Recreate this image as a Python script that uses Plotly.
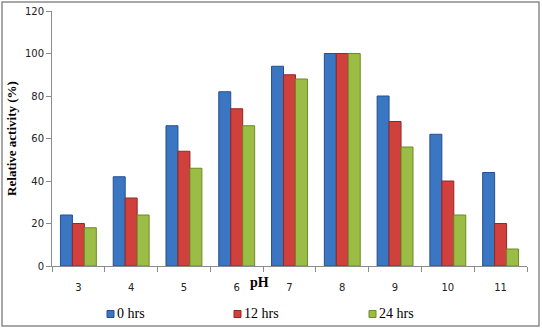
import plotly.graph_objects as go

ph_values = ["3", "4", "5", "6", "7", "8", "9", "10", "11"]
series_names = ["0 hrs", "12 hrs", "24 hrs"]
activity_0h = [24, 42, 66, 82, 94, 100, 80, 62, 44]
activity_12h = [20, 32, 54, 74, 90, 100, 68, 40, 20]
activity_24h = [18, 24, 46, 66, 88, 100, 56, 24, 8]
y_ticks = [0, 20, 40, 60, 80, 100, 120]

fills = ["#3b76c3", "#d0403c", "#9cbd45"]
edges = ["#25508f", "#962624", "#6c8a26"]

W, H = 542, 329
L, R, T, B = 52, 15, 11, 63
pw = W - L - R
ph = H - T - B


def px_x(x):
    return (x - L) / pw


def px_y(y):
    return (H - B - y) / ph


fig = go.Figure()
for name, vals, fc, ec in zip(series_names, [activity_0h, activity_12h, activity_24h], fills, edges):
    fig.add_trace(go.Bar(
        x=ph_values, y=vals, name=name, showlegend=False,
        marker=dict(color=fc, line=dict(color=ec, width=1)),
    ))

# outer chart border
fig.add_shape(type="rect", xref="paper", yref="paper",
              x0=px_x(2), x1=px_x(539), y0=px_y(326), y1=px_y(2),
              line=dict(color="#8c8c8c", width=1.5), fillcolor="rgba(0,0,0,0)")

# x axis title
fig.add_annotation(text="<b>pH</b>", xref="paper", yref="paper",
                   x=px_x(259), y=px_y(292), showarrow=False,
                   font=dict(family="Liberation Serif", size=14, color="#000"))

# legend row below the axis: small square key + label
key_left = [107, 234, 369]
for name, fc, ec, kx in zip(series_names, fills, edges, key_left):
    fig.add_shape(type="rect", xref="paper", yref="paper",
                  x0=px_x(kx), x1=px_x(kx + 7), y0=px_y(317.5), y1=px_y(310.5),
                  line=dict(color=ec, width=1), fillcolor=fc)
    fig.add_annotation(text=name, xref="paper", yref="paper",
                       x=px_x(kx + 8), y=px_y(313.5), xanchor="left", yanchor="middle",
                       showarrow=False,
                       font=dict(family="Liberation Serif", size=14, color="#000"))

fig.update_layout(
    width=W, height=H,
    margin=dict(l=L, r=R, t=T, b=B, autoexpand=False),
    paper_bgcolor="white", plot_bgcolor="white",
    barmode="group", bargap=0.32, bargroupgap=0,
    font=dict(family="Liberation Serif", color="#000000"),
    showlegend=False,
    xaxis=dict(
        type="category", showline=True, linecolor="#8c8c8c", linewidth=1,
        ticks="outside", tickson="boundaries", ticklen=5, tickcolor="#8c8c8c",
        ticklabelstandoff=12,
        tickfont=dict(family="DejaVu Sans", size=10, color="#222"),
        showgrid=False, automargin=False,
    ),
    yaxis=dict(
        range=[0, 120], tickvals=y_ticks, showline=True, linecolor="#8c8c8c", linewidth=1,
        ticks="outside", ticklen=5, tickcolor="#8c8c8c",
        tickfont=dict(family="DejaVu Sans", size=10, color="#222"),
        title=dict(text="<b>Relative activity (%)</b>", font=dict(family="Liberation Serif", size=13), standoff=5),
        showgrid=False, zeroline=False, automargin=False,
    ),
)

fig.write_html("out.html")
